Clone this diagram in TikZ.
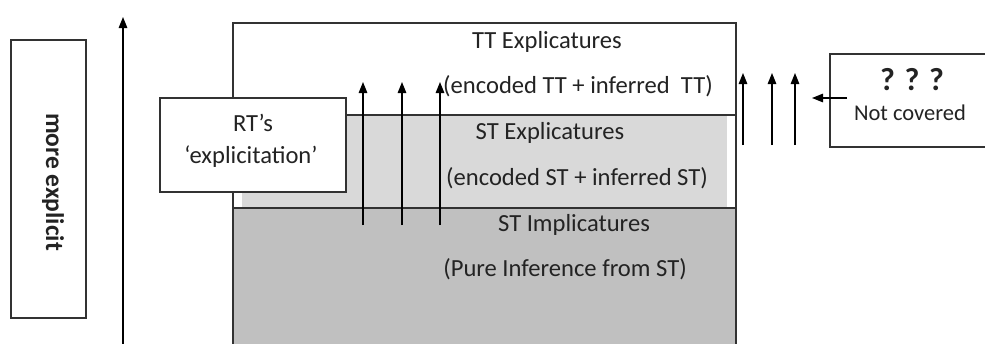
\documentclass[tikz,border=0pt]{standalone}
\usepackage{fontspec}
\setmainfont{Carlito}
\usetikzlibrary{arrows.meta}
\definecolor{lgray}{RGB}{217,217,217}
\definecolor{dgray}{RGB}{192,192,192}
\definecolor{ink}{RGB}{35,35,35}
\definecolor{edge}{RGB}{50,50,50}
\tikzset{
  txt/.style={text=ink,font=\fontsize{24.6}{28}\selectfont,inner sep=0pt},
  boxline/.style={draw=edge,line width=1.5pt},
  uparrow/.style={draw=black,line width=1.3pt,-{Triangle[width=8.5pt,length=11pt]}},
}
\begin{document}
\begin{tikzpicture}[x=1pt,y=-1pt]
\useasboundingbox (0,0) rectangle (985,343);
\clip (0,0) rectangle (985,343);
% layered regions
\fill[white] (233,23) rectangle (736,115);
\fill[lgray] (242,115) rectangle (727,208);
\fill[dgray] (233,208) rectangle (736,350);
\draw[edge,line width=1.2pt] (233,350) -- (233,23) -- (736,23) -- (736,350);
\draw[edge,line width=1.2pt] (233,115) -- (736,115);
\draw[edge,line width=1.2pt] (233,208) -- (736,208);
% region texts
\node[txt] (tt)  at (547,42)  {TT Explicatures};
\node[txt] (tte) at (578,86)  {(encoded TT + inferred~~TT)};
\node[txt] (st)  at (550,133) {ST Explicatures};
\node[txt] (ste) at (577,178) {(encoded ST + inferred ST)};
\node[txt] (si)  at (574,225) {ST Implicatures};
\node[txt] (sie) at (565,269) {(Pure Inference from ST)};
% left box and axis arrow
\node[boxline,fill=white,minimum width=75pt,minimum height=278pt,inner sep=0pt] (me) at (48.5,179) {};
\node[txt,rotate=-90,font=\fontsize{25.5}{28}\selectfont\bfseries] (metxt) at (53,182) {more explicit};
\coordinate (axb) at (123,350);
\coordinate (axt) at (123,17);
\draw[uparrow] (axb) -- (axt);
% RT box
\node[boxline,fill=white,minimum width=186pt,minimum height=94pt,inner sep=0pt] (rt) at (253,145) {};
\node[txt] (rt1) at (253,123) {RT’s};
\node[txt] (rt2) at (251,157) {‘explicitation’};
% inner arrows
\foreach \i/\x in {1/363,2/402,3/440}{
  \coordinate (ib\i) at (\x,225);
  \coordinate (it\i) at (\x,82);
  \draw[uparrow] (ib\i) -- (it\i);
}
% right arrows
\foreach \i/\x in {1/743,2/772,3/795}{
  \coordinate (rb\i) at (\x,145);
  \coordinate (rt\i) at (\x,73);
  \draw[uparrow] (rb\i) -- (rt\i);
}
% not covered box
\node[boxline,fill=white,minimum width=180pt,minimum height=93pt,inner sep=0pt,anchor=north west] (nc) at (829,53) {};
\node[txt,font=\fontsize{32}{34}\selectfont\bfseries] (q) at (912,80) {? ? ?};
\node[txt,font=\fontsize{22.5}{26}\selectfont] (ncl) at (910,113) {Not covered};
\coordinate (nca) at (847,98);
\coordinate (ncb) at (812,98);
\draw[uparrow] (nca) -- (ncb);
\end{tikzpicture}
\end{document}
